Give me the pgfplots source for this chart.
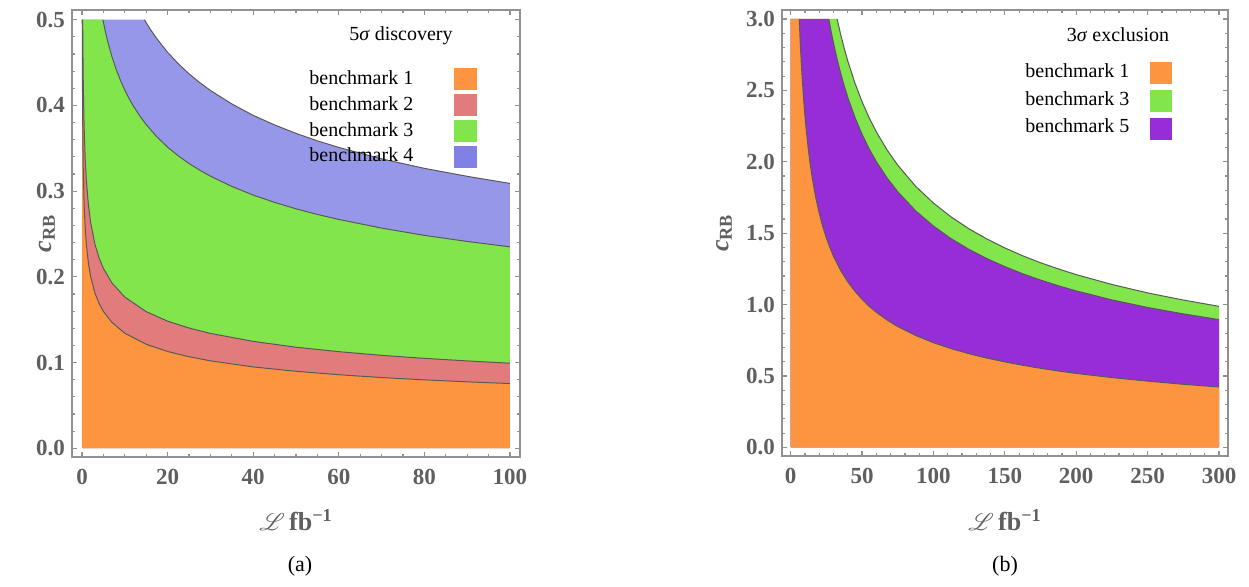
\documentclass[border=0pt]{standalone}
\usepackage{pgfplots}
\usepackage{pgfplotstable}
\pgfplotsset{compat=1.18}
\usepackage{fontspec}
\setmainfont{Liberation Serif}
\usepackage{mathrsfs}
\definecolor{cOr}{RGB}{253,148,64}
\definecolor{cRd}{RGB}{226,124,124}
\definecolor{cGr}{RGB}{129,229,75}
\definecolor{cBl}{RGB}{151,151,234}
\definecolor{cBlL}{RGB}{128,128,230}
\definecolor{cPu}{RGB}{150,45,215}
\definecolor{tk}{RGB}{95,95,95}
\definecolor{fr}{RGB}{145,145,145}

\pgfplotsset{mstyle/.style={
  scale only axis,
  axis line style={fr, line width=0.6pt},
  tick style={fr, line width=0.6pt},
  tick align=inside,
  major tick length=2.6pt, minor tick length=1.6pt,
  tick label style={font=\bfseries\fontsize{11.5}{11.5}\selectfont, text=tk},
  /pgf/number format/assume math mode=true,
  yticklabel style={/pgf/number format/.cd, fixed, fixed zerofill, precision=1},
  xticklabel style={yshift=-2.5pt, /pgf/number format/.cd, fixed, precision=0},
  xlabel style={font=\bfseries\fontsize{13}{13}\selectfont, text=tk, anchor=center},
  ylabel style={font=\fontsize{13}{13}\selectfont, text=tk, anchor=center},
  axis on top,
}}
\pgfplotsset{bline/.style={draw=black!65, line width=0.5pt, skip coords between index={0}{1}}}

% ---------- panel (a): 5 sigma discovery ----------
\pgfplotstableread{
L c
0 0.5
0.052 0.5
0.1 0.4245
0.2 0.357
0.3 0.3226
0.5 0.284
0.75 0.2566
1 0.2387
1.5 0.2157
2 0.2008
3 0.1814
4 0.1688
5 0.1597
7 0.1468
10 0.1342
15 0.1213
20 0.1129
25 0.1068
30 0.1020
40 0.0949
50 0.0898
60 0.0858
70 0.0825
80 0.0798
90 0.0775
100 0.0755
}\aOne
\pgfplotstableread{
L c
0 0.5
0.155 0.5
0.2 0.4691
0.3 0.4239
0.5 0.3731
0.75 0.3371
1 0.3137
1.5 0.2834
2 0.2638
3 0.2384
4 0.2218
5 0.2098
7 0.1928
10 0.1764
15 0.1594
20 0.1483
25 0.1403
30 0.1340
40 0.1247
50 0.1179
60 0.1127
70 0.1084
80 0.1049
90 0.1019
100 0.0992
}\aTwo
\pgfplotstableread{
L c
0 0.5
4.88 0.5
5 0.4970
5.5 0.4853
6 0.4749
7 0.4568
8 0.4418
9 0.4291
10 0.4178
11 0.4080
12 0.3993
13.5 0.3878
15 0.3776
17.5 0.3633
20 0.3513
22.5 0.3412
25 0.3323
27.5 0.3245
30 0.3175
35 0.3055
40 0.2954
45 0.2869
50 0.2794
55 0.2728
60 0.2670
70 0.2569
80 0.2484
90 0.2413
100 0.235
}\aThree
\pgfplotstableread{
L c
0 0.5
14.59 0.5
15 0.4966
16 0.4885
17.5 0.4778
20 0.4620
22.5 0.4487
25 0.4369
27.5 0.4267
30 0.4175
35 0.4018
40 0.3884
45 0.3773
50 0.3674
55 0.3587
60 0.3510
70 0.3377
80 0.3266
90 0.3173
100 0.309
}\aFour
% ---------- panel (b): 3 sigma exclusion ----------
\pgfplotstableread{
L c
0 3
5.97 3
6.5 2.875
7 2.770
7.5 2.677
8 2.592
9 2.443
10 2.318
11 2.210
12.5 2.073
13.5 1.995
15 1.893
17.5 1.752
20 1.639
22.5 1.545
25 1.466
27.5 1.398
30 1.338
35 1.239
40 1.159
45 1.093
50 1.037
55 0.988
60 0.946
67.5 0.892
75 0.846
87.5 0.784
100 0.733
112.5 0.691
125 0.656
137.5 0.625
150 0.599
162.5 0.575
175 0.554
187.5 0.535
200 0.518
225 0.489
250 0.464
275 0.442
300 0.423
}\bOne
\pgfplotstableread{
L c
0 3
26.7 3
28 2.929
30 2.830
32.5 2.719
35 2.620
37.5 2.531
40 2.451
45 2.311
50 2.192
55 2.090
60 2.001
67.5 1.887
75 1.790
87.5 1.657
100 1.550
112.5 1.461
125 1.386
137.5 1.322
150 1.266
162.5 1.216
175 1.172
187.5 1.132
200 1.096
225 1.033
250 0.980
275 0.935
300 0.895
}\bFive
\pgfplotstableread{
L c
0 3
32.5 3
33.5 2.956
35 2.892
37.5 2.794
40 2.705
45 2.551
50 2.420
55 2.307
60 2.209
67.5 2.083
75 1.976
87.5 1.829
100 1.711
112.5 1.613
125 1.530
137.5 1.459
150 1.397
162.5 1.342
175 1.293
187.5 1.250
200 1.210
225 1.141
250 1.082
275 1.032
300 0.988
}\bThree

\begin{document}
\begin{tikzpicture}
\useasboundingbox (0,0) rectangle (624.5pt,293.5pt);

\begin{axis}[mstyle,
  at={(36pt,65pt)}, anchor=south west,
  width=224pt, height=223.5pt,
  xmin=-2.34, xmax=102.34, ymin=-0.0102, ymax=0.5114,
  xtick={0,20,...,100}, minor x tick num=3,
  ytick={0,0.1,0.2,0.3,0.4,0.5}, minor y tick num=4,
  xlabel={$\mathscr{L}$\,fb\textsuperscript{\bfseries −1}},
  ylabel={\textbf{\textit{c}}\textsubscript{\bfseries RB}},
  xlabel style={at={(axis description cs:0.5,-0.141)}},
  ylabel style={at={(axis description cs:-0.056,0.5)}},
]
\addplot[fill=cBl, draw=none] table {\aFour} \closedcycle;
\addplot[fill=cGr, draw=none] table {\aThree} \closedcycle;
\addplot[fill=cRd, draw=none] table {\aTwo} \closedcycle;
\addplot[fill=cOr, draw=none] table {\aOne} \closedcycle;
\addplot[bline] table {\aFour};
\addplot[bline] table {\aThree};
\addplot[bline] table {\aTwo};
\addplot[bline] table {\aOne};
\end{axis}

\begin{axis}[mstyle,
  at={(391pt,65.5pt)}, anchor=south west,
  width=223pt, height=223pt,
  xmin=-6.1, xmax=306.3, ymin=-0.06, ymax=3.063,
  xtick={0,50,...,300}, minor x tick num=4,
  ytick={0,0.5,1,1.5,2,2.5,3}, minor y tick num=4,
  xlabel={$\mathscr{L}$\,fb\textsuperscript{\bfseries −1}},
  ylabel={\textbf{\textit{c}}\textsubscript{\bfseries RB}},
  xlabel style={at={(axis description cs:0.5,-0.143)}},
  ylabel style={at={(axis description cs:-0.130,0.5)}},
]
\addplot[fill=cGr, draw=none] table {\bThree} \closedcycle;
\addplot[fill=cPu, draw=none] table {\bFive} \closedcycle;
\addplot[fill=cOr, draw=none] table {\bOne} \closedcycle;
\addplot[bline] table {\bThree};
\addplot[bline] table {\bFive};
\addplot[bline] table {\bOne};
\end{axis}

% legends and captions (pixel coordinates of the reference)
\begin{scope}[x=0.5pt, y=-0.5pt, yshift=293.5pt, font=\fontsize{10}{10}\selectfont]
  \node[anchor=base, inner sep=0pt] at (401,40.7) {5\textit{σ} discovery};
  \node[anchor=base west, inner sep=0pt] at (309,85) {benchmark 1};
  \node[anchor=base west, inner sep=0pt] at (309,110.7) {benchmark 2};
  \node[anchor=base west, inner sep=0pt] at (309,136.5) {benchmark 3};
  \node[anchor=base west, inner sep=0pt] at (309,162) {benchmark 4};
  \fill[cOr] (454,68.5) rectangle (476.5,90.5);
  \fill[cRd] (454,94.5) rectangle (476.5,116.5);
  \fill[cGr] (454,120) rectangle (476.5,142);
  \fill[cBlL] (454,146.5) rectangle (476.5,168.5);

  \node[anchor=base, inner sep=0pt] at (1118,41.7) {3\textit{σ} exclusion};
  \node[anchor=base west, inner sep=0pt] at (1025,77.8) {benchmark 1};
  \node[anchor=base west, inner sep=0pt] at (1025,105.5) {benchmark 3};
  \node[anchor=base west, inner sep=0pt] at (1025,133) {benchmark 5};
  \fill[cOr] (1150,62.3) rectangle (1172,84.3);
  \fill[cGr] (1150,90.5) rectangle (1172,112.5);
  \fill[cPu] (1150,118.3) rectangle (1172,140.3);

  \node[font=\fontsize{11}{11}\selectfont] at (300,566) {(a)};
  \node[font=\fontsize{11}{11}\selectfont] at (1005,566) {(b)};
\end{scope}
\end{tikzpicture}
\end{document}
